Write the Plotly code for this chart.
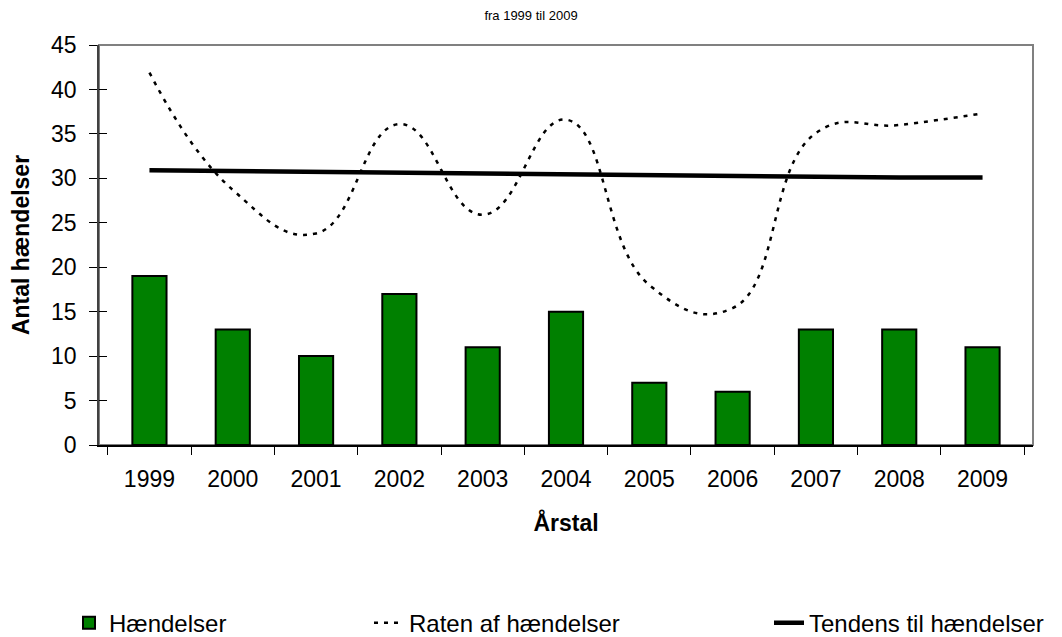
import plotly.graph_objects as go

years = ["1999", "2000", "2001", "2002", "2003", "2004", "2005", "2006", "2007", "2008", "2009"]
haendelser = [19, 13, 10, 17, 11, 15, 7, 6, 13, 13, 11]
raten = [41.9, 28.7, 23.8, 36.1, 25.9, 36.6, 18.0, 15.4, 35.1, 36.0, 37.3]
tendens = [30.9, 30.8, 30.7, 30.6, 30.6, 30.5, 30.4, 30.3, 30.2, 30.1, 30.1]
y_ticks = [0, 5, 10, 15, 20, 25, 30, 35, 40, 45]

FONT = "Liberation Sans, Arial, sans-serif"
W, H = 1054, 629  # page has an 8px body margin

fig = go.Figure()
fig.add_trace(go.Bar(
    x=years, y=haendelser, name="Hændelser",
    marker=dict(color="#008000", line=dict(color="black", width=2)),
    width=0.41, legend="legend",
))
fig.add_trace(go.Scatter(
    x=years, y=raten, name="Raten af hændelser", mode="lines",
    line=dict(color="black", width=2.5, dash="4px,6px", shape="spline", smoothing=1.3),
    legend="legend2",
))
fig.add_trace(go.Scatter(
    x=years, y=tendens, name="Tendens til hændelser", mode="lines",
    line=dict(color="black", width=4.5),
    legend="legend3",
))
fig.add_trace(go.Scatter(x=years, y=[None]*len(years), yaxis="y2", showlegend=False, hoverinfo="skip"))

legend_common = dict(orientation="h", yref="container", yanchor="middle", y=0.022,
                     xref="container", xanchor="left",
                     font=dict(family=FONT, size=24, color="black"),
                     bgcolor="rgba(0,0,0,0)")

fig.update_layout(
    width=W, height=H,
    margin=dict(l=91, r=29, t=37, b=192, autoexpand=False),
    paper_bgcolor="white", plot_bgcolor="white",
    font=dict(family=FONT, color="black"),
    title=dict(text="fra 1999 til 2009", x=523/W, xref="container", xanchor="center",
               y=1 - 7/H, yref="container", yanchor="middle",
               font=dict(family=FONT, size=13, color="black")),
    xaxis=dict(
        type="category", showline=True, linecolor="black", linewidth=1.5,
        ticks="outside", tickson="boundaries", ticklen=8, tickcolor="black",
        tickfont=dict(family=FONT, size=23, color="black"), ticklabelstandoff=13,
        showgrid=False, zeroline=False,
        title=dict(text="<b>Årstal</b>", font=dict(family=FONT, size=23, color="black"), standoff=24),
    ),
    yaxis=dict(
        range=[0, 45], tickvals=y_ticks, showline=True, linecolor="#404040", linewidth=1.5,
        ticks="outside", ticklen=8, tickcolor="black",
        tickfont=dict(family=FONT, size=23, color="black"), ticklabelstandoff=8,
        showgrid=False, zeroline=False,
        title=dict(text="<b>Antal hændelser</b>", font=dict(family=FONT, size=23, color="black"), standoff=16),
    ),
    yaxis2=dict(
        overlaying="y", range=[0, 45], tickvals=y_ticks, ticks="inside", ticklen=8,
        tickcolor="black", showticklabels=False, showgrid=False, zeroline=False, showline=False,
        side="left",
    ),
    legend=dict(**legend_common, x=61/W),
    legend2=dict(**legend_common, x=361/W),
    legend3=dict(**legend_common, x=761/W),
    shapes=[dict(type="rect", xref="x domain", yref="y domain", x0=0, x1=1, y0=0, y1=1,
                 line=dict(color="#808080", width=2), layer="below")],
)

fig.write_html("out.html")
